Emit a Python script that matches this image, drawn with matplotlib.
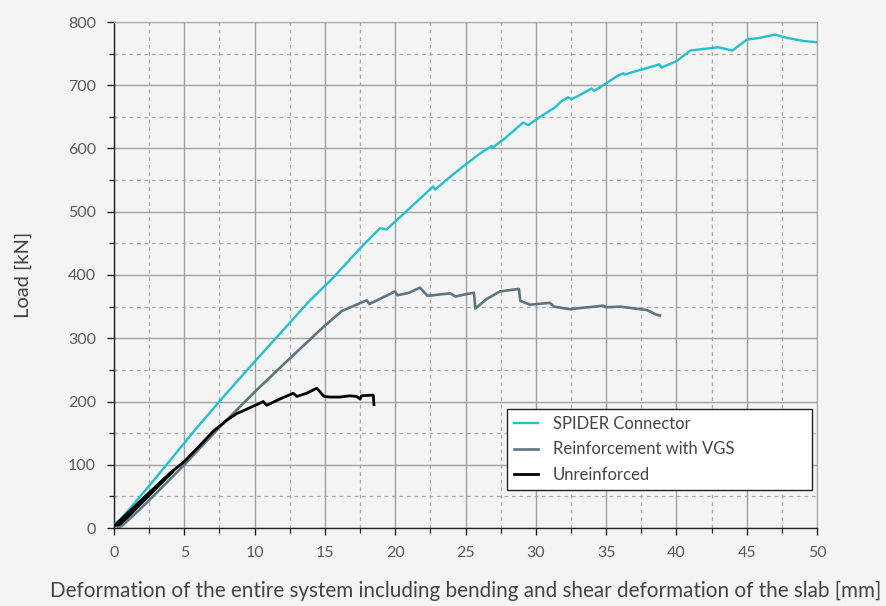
import numpy as np
import matplotlib.pyplot as plt
from matplotlib.ticker import MultipleLocator

# ── data ──────────────────────────────────────────────────────
spider_x = [0, 0.5, 1.26, 3.0, 5.76, 8.0, 10.0, 12.04, 13.94, 15.47, 17.5, 18.92,
            19.39, 21.0, 22.7, 22.83, 23.9, 24.96, 26.03, 26.86, 26.9, 27.8, 29.1,
            29.47, 30.3, 31.37, 31.84, 32.3, 32.55, 33.26, 33.97, 34.14, 34.8,
            35.75, 36.23, 36.3, 37.4, 38.79, 38.95, 40.0, 41.0, 42.97, 43.99,
            45.0, 45.95, 47.01, 47.84, 49.03, 50.0]
spider_y = [5, 15, 34, 80, 155, 213, 263, 313, 360, 393, 442, 474,
            472, 505, 540, 535, 555, 574, 592, 604, 601, 616, 641,
            637, 650, 665, 675, 681, 678, 686, 695, 691, 700,
            714, 719, 717, 724, 733, 728, 738, 755, 760, 755,
            772, 775, 780, 775, 770, 768]

vgs_x = [0.3, 0.6, 1.0, 2.0, 3.0, 5.0, 7.54, 10.0, 12.5, 14.9, 16.2, 17.97,
         18.16, 19.99, 20.17, 21.0, 21.76, 22.3, 23.9, 24.3, 24.9, 25.6, 25.7,
         26.5, 27.45, 28.8, 28.9, 29.6, 31.0, 31.3, 32.4, 34.8, 35.0, 36.0,
         37.9, 38.6, 38.83]
vgs_y = [0, 4, 12, 33, 55, 100, 160, 215, 268, 318, 343, 360,
         354, 374, 368, 372, 380, 367, 371, 366, 369, 372, 347,
         362, 374, 378, 359, 353, 356, 350, 346, 351.5, 349, 350,
         344.6, 337, 336]

unr_x = [0, 1.0, 2.0, 3.0, 3.6, 0.5, 0.2, 1.5, 3.0, 4.2, 1.0, 0.4, 2.0, 4.0, 5.0,
         6.0, 7.06, 8.0, 8.73, 8.96, 10.15, 10.62, 10.86, 11.8, 12.75, 13.0,
         13.7, 14.42, 14.94, 15.36, 16.07, 16.78, 17.25, 17.5, 17.6, 18.33,
         18.44, 18.49]
unr_y = [3, 24, 45, 65, 78, 8, 4, 34, 66, 90, 18, 6, 44, 87, 105,
         128, 153, 170, 181, 183, 195, 200, 194, 204, 213, 208,
         213, 221, 208, 207, 207, 209, 208, 204, 209, 210,
         210, 195]

labels = ["SPIDER Connector", "Reinforcement with VGS", "Unreinforced"]
colors = ["#22c1d0", "#5e7580", "#000000"]

BG = "#f4f4f4"
plt.rcParams["font.family"] = ["Lato", "DejaVu Sans"]

fig = plt.figure(figsize=(8.86, 6.06), dpi=100, facecolor=BG)
ax = fig.add_axes([114/886, 78/606, 703/886, 506/606], facecolor=BG)

ax.plot(spider_x, spider_y, color=colors[0], lw=1.7, label=labels[0], zorder=3)
ax.plot(vgs_x, vgs_y, color=colors[1], lw=1.9, label=labels[1], zorder=3)
ax.plot(unr_x, unr_y, color=colors[2], lw=2.0, label=labels[2], zorder=4)

ax.set_xlim(0, 50)
ax.set_ylim(0, 800)
ax.xaxis.set_major_locator(MultipleLocator(5))
ax.xaxis.set_minor_locator(MultipleLocator(2.5))
ax.yaxis.set_major_locator(MultipleLocator(100))
ax.yaxis.set_minor_locator(MultipleLocator(50))

ax.grid(which="major", color="#a0a0a0", lw=1.0, ls="-")
ax.grid(which="minor", color="#a8a8a8", lw=0.9, ls=(0, (3, 3)))
ax.set_axisbelow(True)

for s in ["top", "right"]:
    ax.spines[s].set_color("#a8a8a8")
for s in ["left", "bottom"]:
    ax.spines[s].set_color("#222222")
    ax.spines[s].set_linewidth(1.0)

ax.tick_params(which="major", direction="out", length=5, width=1.0,
               color="#222222", labelsize=11.5, labelcolor="#5a5a5a", pad=8)
ax.tick_params(which="minor", direction="out", length=3.5, width=0.9,
               color="#222222")

ax.set_xlabel("Deformation of the entire system including bending and shear "
              "deformation of the slab [mm]", fontsize=14.9, color="#444444",
              labelpad=15)
ax.set_ylabel("Load [kN]", fontsize=14.5, color="#444444", labelpad=26)

leg = ax.legend(loc="lower left", bbox_to_anchor=(0.559, 0.075, 0.434, 0.162),
                mode="expand", fontsize=12, frameon=True, fancybox=False,
                edgecolor="#222222", facecolor="white", framealpha=1,
                handlelength=1.4, handletextpad=0.9, labelspacing=0.55,
                borderpad=0.45, borderaxespad=0)
leg.get_frame().set_linewidth(1.0)
for t in leg.get_texts():
    t.set_color("#444444")

fig.savefig("out.png", dpi=100, facecolor=BG)
